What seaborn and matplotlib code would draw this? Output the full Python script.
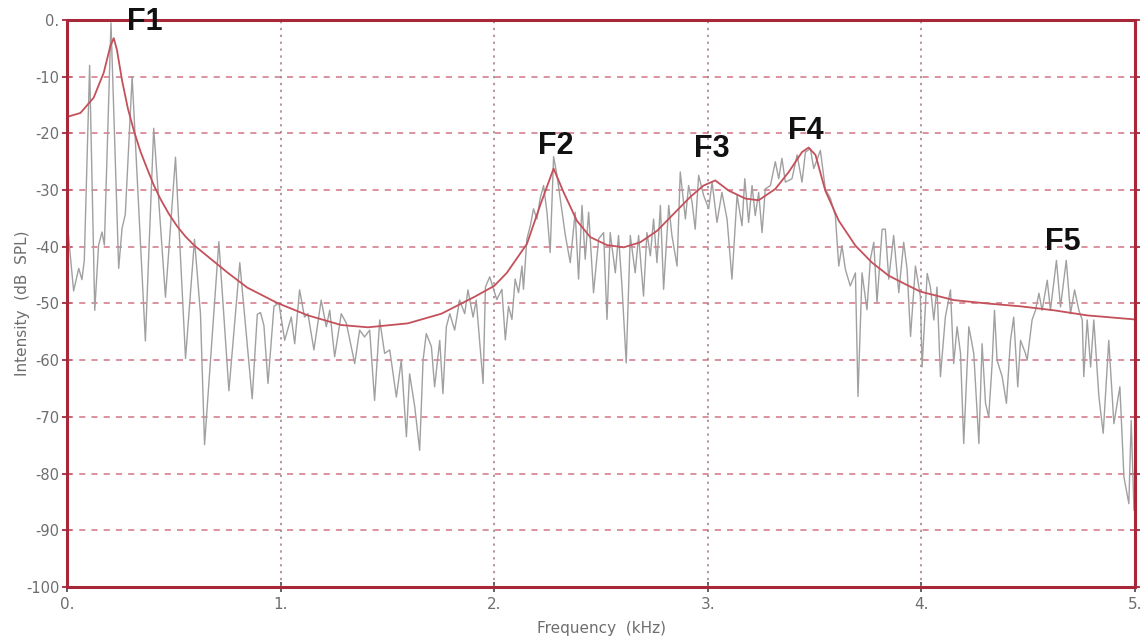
import numpy as np
import pandas as pd
import matplotlib
matplotlib.use("Agg")
import matplotlib.pyplot as plt
import seaborn as sns

# Narrow-band spectrum (kHz, dB SPL)
spec_freq = [
    0.003, 0.031, 0.055, 0.070, 0.081, 0.106, 0.130, 0.148, 0.164, 0.175,
    0.206, 0.242, 0.258, 0.273, 0.305, 0.367, 0.406, 0.461, 0.508, 0.555,
    0.597, 0.625, 0.644, 0.711, 0.758, 0.809, 0.867, 0.891, 0.906, 0.922,
    0.941, 0.969, 0.992,
    1.019, 1.050, 1.066, 1.089, 1.112, 1.128, 1.156, 1.190, 1.214, 1.230,
    1.253, 1.284, 1.308, 1.347, 1.370, 1.393, 1.417, 1.440, 1.464, 1.487,
    1.511, 1.542, 1.565, 1.589, 1.604, 1.628, 1.651, 1.667, 1.682, 1.706,
    1.721, 1.745, 1.760, 1.776, 1.792, 1.815, 1.838, 1.862, 1.877, 1.901,
    1.916, 1.948, 1.959, 1.979,
    2.012, 2.036, 2.052, 2.067, 2.083, 2.098, 2.114, 2.130, 2.137, 2.153,
    2.169, 2.184, 2.200, 2.215, 2.231, 2.247, 2.262, 2.278, 2.294, 2.309,
    2.333, 2.356, 2.379, 2.395, 2.411, 2.426, 2.442, 2.465, 2.489, 2.512,
    2.528, 2.543, 2.567, 2.582, 2.598, 2.618, 2.637, 2.660, 2.676, 2.699,
    2.715, 2.731, 2.746, 2.762, 2.778, 2.793, 2.817, 2.832, 2.856, 2.871,
    2.895, 2.910, 2.926, 2.941, 2.957, 2.980,
    3.004, 3.020, 3.043, 3.066, 3.090, 3.113, 3.137, 3.160, 3.173, 3.191,
    3.207, 3.222, 3.238, 3.254, 3.269, 3.293, 3.316, 3.332, 3.347, 3.363,
    3.394, 3.418, 3.441, 3.457, 3.480, 3.496, 3.527, 3.550, 3.574, 3.597,
    3.613, 3.628, 3.644, 3.667, 3.691, 3.703, 3.722, 3.745, 3.761, 3.777,
    3.792, 3.816, 3.831, 3.847, 3.870, 3.894, 3.917, 3.933, 3.949, 3.972,
    3.995,
    4.003, 4.027, 4.042, 4.058, 4.073, 4.089, 4.112, 4.136, 4.151, 4.167,
    4.183, 4.198, 4.222, 4.245, 4.269, 4.284, 4.300, 4.315, 4.331, 4.342,
    4.354, 4.378, 4.398, 4.417, 4.432, 4.451, 4.464, 4.487, 4.495, 4.518,
    4.534, 4.550, 4.565, 4.589, 4.604, 4.632, 4.651, 4.678, 4.698, 4.717,
    4.737, 4.753, 4.760, 4.776, 4.792, 4.807, 4.831, 4.851, 4.877, 4.901,
    4.929, 4.948, 4.971, 4.982, 4.995,
]
spec_db = [
    -36.4, -47.8, -43.8, -45.8, -42.4, -8.0, -51.2, -39.7, -37.4, -39.7,
    -0.5, -43.8, -36.7, -34.3, -10.0, -56.6, -19.1, -48.9, -24.2, -59.7,
    -38.7, -51.9, -74.9, -39.1, -65.4, -42.8, -66.8, -51.9, -51.6, -53.9,
    -64.1, -50.5, -49.9,
    -56.5, -52.4, -57.1, -47.6, -52.4, -51.8, -58.2, -49.4, -54.1, -51.2,
    -59.4, -51.8, -53.5, -60.6, -54.7, -55.9, -54.7, -67.1, -52.9, -58.8,
    -58.2, -66.5, -60.0, -73.5, -62.4, -68.2, -75.9, -60.0, -55.3, -57.6,
    -64.7, -56.5, -65.9, -54.1, -51.8, -54.7, -49.4, -51.8, -47.6, -52.4,
    -49.4, -64.1, -47.1, -45.3,
    -49.3, -47.5, -56.4, -50.5, -52.8, -45.7, -48.1, -43.4, -47.5, -38.6,
    -36.3, -33.3, -35.1, -31.5, -29.2, -33.9, -41.0, -24.1, -27.4, -31.5,
    -38.0, -42.8, -33.9, -45.7, -32.7, -42.2, -33.9, -48.1, -38.6, -37.5,
    -52.8, -37.5, -44.6, -38.0, -46.9, -60.5, -38.0, -44.6, -38.0, -48.7,
    -37.5, -41.6, -35.1, -42.8, -32.7, -47.5, -32.7, -38.0, -43.4, -26.8,
    -35.1, -29.2, -32.1, -36.9, -27.4, -30.9,
    -33.3, -28.6, -35.7, -30.4, -35.1, -45.7, -30.9, -36.3, -28.0, -35.7,
    -29.2, -34.5, -30.4, -37.5, -29.8, -29.2, -25.0, -28.0, -24.4, -28.6,
    -28.0, -23.8, -28.6, -23.3, -22.7, -26.2, -23.0, -29.8, -31.5, -34.5,
    -43.4, -39.8, -44.0, -46.9, -44.6, -66.4, -44.6, -51.1, -42.2, -39.2,
    -49.9, -36.9, -36.9, -45.7, -38.0, -48.1, -39.2, -44.0, -55.8, -43.4,
    -48.7,
    -61.2, -44.7, -47.1, -52.9, -47.1, -62.9, -52.4, -47.6, -60.6, -54.1,
    -58.8, -74.7, -54.1, -58.8, -74.7, -57.1, -67.6, -70.0, -60.6, -51.2,
    -60.0, -62.9, -67.6, -56.5, -52.4, -64.7, -56.5, -58.8, -60.0, -52.9,
    -51.2, -48.2, -51.2, -45.9, -51.2, -42.4, -50.6, -42.4, -51.8, -47.6,
    -51.2, -52.9, -62.9, -52.9, -61.2, -52.9, -66.5, -72.9, -56.5, -71.2,
    -64.7, -80.6, -85.3, -70.6, -86.5,
]

# LPC envelope (kHz, dB SPL)
env_freq = [
    0.000, 0.063, 0.125, 0.172, 0.203, 0.219, 0.234, 0.258, 0.285, 0.313,
    0.344, 0.375, 0.406, 0.438, 0.477, 0.516, 0.555, 0.594, 0.672, 0.750,
    0.844, 0.984,
    1.128, 1.284, 1.409, 1.596, 1.753, 1.909,
    2.000, 2.059, 2.153, 2.215, 2.278, 2.325, 2.387, 2.450, 2.528, 2.606,
    2.684, 2.762, 2.840, 2.918, 2.980,
    3.035, 3.098, 3.176, 3.238, 3.316, 3.379, 3.441, 3.472, 3.504, 3.550,
    3.613, 3.691, 3.769, 3.847, 3.925,
    3.995, 4.151, 4.308, 4.464, 4.620, 4.776, 4.995,
]
env_db = [
    -17.1, -16.4, -13.7, -9.3, -4.6, -3.2, -5.3, -10.7, -15.6, -19.5,
    -23.2, -26.2, -29.1, -31.6, -34.2, -36.4, -38.2, -39.7, -42.1, -44.5,
    -47.2, -49.9,
    -52.1, -53.8, -54.2, -53.5, -51.8, -48.8,
    -46.9, -44.6, -39.5, -32.7, -26.2, -30.4, -35.4, -38.3, -39.7, -40.1,
    -39.2, -37.2, -34.2, -31.2, -29.2,
    -28.3, -30.1, -31.5, -31.8, -29.8, -26.8, -23.3, -22.5, -23.8, -30.1,
    -35.4, -39.8, -42.8, -45.1, -46.6,
    -47.9, -49.4, -50.0, -50.5, -51.2, -52.1, -52.8,
]

# Formant labels and their positions
formant_names = ["F1", "F2", "F3", "F4", "F5"]
formant_freq = [0.365, 2.286, 3.017, 3.460, 4.660]
formant_label_db = [-0.3, -22.2, -22.8, -19.6, -39.1]

x_ticks = [0, 1, 2, 3, 4, 5]
x_tick_labels = ["0.", "1.", "2.", "3.", "4.", "5."]
y_ticks = [0, -10, -20, -30, -40, -50, -60, -70, -80, -90, -100]
y_tick_labels = ["0.", "-10", "-20", "-30", "-40", "-50", "-60", "-70",
                 "-80", "-90", "-100"]

sns.set_theme(style="white")
plt.rcParams["font.family"] = ["DejaVu Sans"]

spec = pd.DataFrame({"freq": spec_freq, "db": spec_db})
env = pd.DataFrame({"freq": env_freq, "db": env_db})

fig = plt.figure(figsize=(11.45, 6.4), dpi=100)
fig.patch.set_facecolor("white")
ax = fig.add_axes([0.0585, 0.0828, 0.9328, 0.886])
ax.set_facecolor("white")

frame_col = "#a8283a"

# grid
for yv in y_ticks[1:-1]:
    ax.axhline(yv, color="#cf7585", lw=1.1, ls=(0, (4, 4)), zorder=1)
for xv in x_ticks[1:-1]:
    ax.axvline(xv, color="#a07a84", lw=1.1, ls=(0, (1.5, 3)), zorder=1)

sns.lineplot(data=spec, x="freq", y="db", ax=ax, color="#a0a0a0",
             lw=1.0, estimator=None, sort=False, zorder=3)
sns.lineplot(data=env, x="freq", y="db", ax=ax, color="#c4505a",
             lw=1.3, estimator=None, sort=False, zorder=4)

for name, fx, fy in zip(formant_names, formant_freq, formant_label_db):
    ax.text(fx, fy, name, ha="center", va="center", fontsize=22,
            fontweight="bold", family=["Liberation Sans", "DejaVu Sans"],
            color="#111111", zorder=6, clip_on=False)

ax.set_xlim(0, 5)
ax.set_ylim(-100, 0)
ax.set_xticks(x_ticks)
ax.set_xticklabels(x_tick_labels)
ax.set_yticks(y_ticks)
ax.set_yticklabels(y_tick_labels)

for side in ["left", "right", "top", "bottom"]:
    ax.spines[side].set_visible(True)
    ax.spines[side].set_color(frame_col)
    ax.spines[side].set_linewidth(2.2)
    ax.spines[side].set_zorder(5)

ax.tick_params(axis="y", which="both", left=True, right=True,
               direction="inout", length=7, width=1.3, color=frame_col,
               labelsize=10.5, labelcolor="#6e6e6e", pad=2)
ax.tick_params(axis="x", which="both", bottom=True, direction="inout",
               length=7, width=1.3, color="#555555", labelsize=11,
               labelcolor="#6e6e6e", pad=4)

ax.set_xlabel("Frequency  (kHz)", fontsize=11, color="#6e6e6e", labelpad=6)
ax.set_ylabel("Intensity  (dB  SPL)", fontsize=11, color="#6e6e6e",
              labelpad=-3)

fig.savefig("out.png", dpi=100, facecolor="white")
